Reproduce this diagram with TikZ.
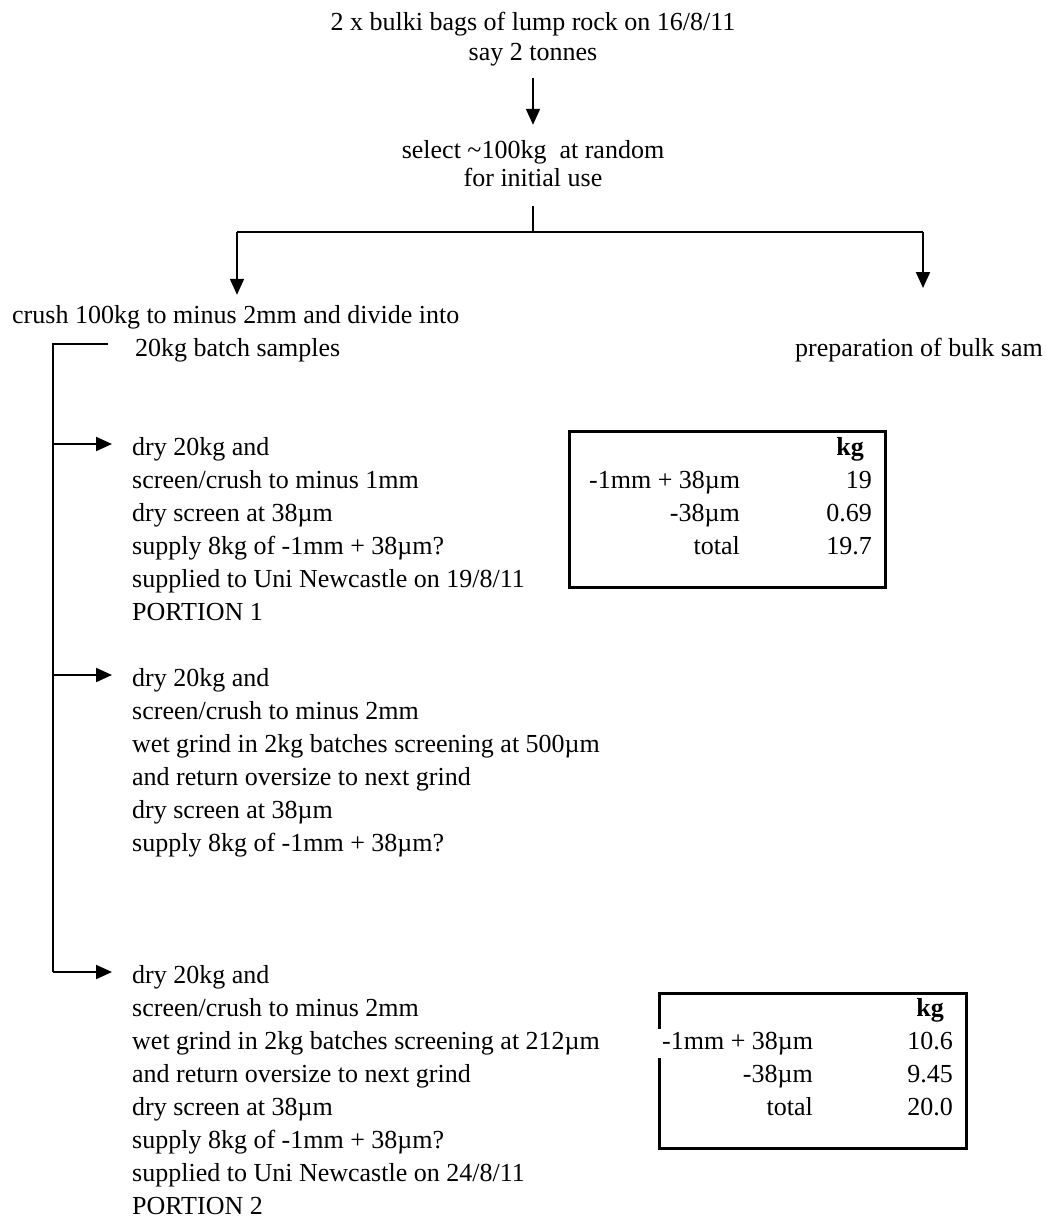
\documentclass[tikz,border=0pt]{standalone}
\usepackage{fontspec}
\setmainfont{Liberation Serif}
\usetikzlibrary{arrows.meta, positioning, calc}

\begin{document}
\begin{tikzpicture}[
  x=1pt, y=-1pt,
  font=\fontsize{26}{33}\selectfont,
  txt/.style={inner sep=0pt, anchor=base west, align=left},
  mid/.style={inner sep=0pt, anchor=base},
  cell/.style={inner sep=0pt, anchor=base east},
  rail/.style={line width=2pt},
  flow/.style={line width=2pt, -{Triangle[length=16pt, width=14pt]}},
  sumbox/.style={draw, line width=3pt, inner sep=0pt, anchor=north west},
]
\useasboundingbox (0,0) rectangle (1045,1218);

% --- Source ---
\node[mid] (bags) at (533,30) {2 x bulki bags of lump rock on 16/8/11};
\node[mid] (tonnes) at (533,60) {say 2 tonnes};
\node[mid] (select) at (533,158) {select \textasciitilde100kg\ \ at random};
\node[mid] (initial) at (533,186) {for initial use};
\draw[flow, shorten <=12pt, shorten >=15pt] (tonnes.south) -- (select.north);

% --- Split ---
\coordinate (split) at (533,232);
\coordinate (splitL) at (237,232);
\coordinate (splitR) at (923,232);
\coordinate (prepTip) at (923,288);
\draw[rail, shorten <=20pt] (initial.south) -- (split);
\draw[rail] (splitL) -- (splitR);

\node[txt] (crush) at (12,323) {crush 100kg to minus 2mm and divide into};
\node[txt] (batch) at (135,356) {20kg batch samples};
\node[txt] (prep) at (795,356) {preparation of bulk sam};
\draw[flow, shorten >=10pt] (splitL) -- (splitL |- crush.north);
\draw[flow] (splitR) -- (prepTip);

% --- Batch samples (base = last line) ---
\node[txt] (g1) at (132,620) {dry 20kg and\\
  screen/crush to minus 1mm\\
  dry screen at 38µm\\
  supply 8kg of -1mm + 38µm?\\
  supplied to Uni Newcastle on 19/8/11\\
  PORTION 1};
\node[txt] (g2) at (132,851) {dry 20kg and\\
  screen/crush to minus 2mm\\
  wet grind in 2kg batches screening at 500µm\\
  and return oversize to next grind\\
  dry screen at 38µm\\
  supply 8kg of -1mm + 38µm?};
\node[txt] (g3) at (132,1214) {dry 20kg and\\
  screen/crush to minus 2mm\\
  wet grind in 2kg batches screening at 212µm\\
  and return oversize to next grind\\
  dry screen at 38µm\\
  supply 8kg of -1mm + 38µm?\\
  supplied to Uni Newcastle on 24/8/11\\
  PORTION 2};

\coordinate (railTop) at (53,344);
\coordinate (railHook) at (108,344);
\path ([xshift=-20pt, yshift=176pt]g1.base west) coordinate (g1in);
\path ([xshift=-20pt, yshift=176pt]g2.base west) coordinate (g2in);
\path ([xshift=-20pt, yshift=242pt]g3.base west) coordinate (g3in);
\draw[rail] (railHook) -- (railTop) -- (railTop |- g3in);
\draw[flow] (railTop |- g1in) -- (g1in);
\draw[flow] (railTop |- g2in) -- (g2in);
\draw[flow] (railTop |- g3in) -- (g3in);

% --- Portion 1 masses ---
\node[sumbox, minimum width=316pt, minimum height=156pt] (box1) at (568,430) {};
\node[cell] (kg1) at (864,455) {\textbf{kg}};
\node[txt] (c1a) at (589,488) {-1mm + 38µm};
\node[cell] (c1b) at (740,521) {-38µm};
\node[cell] (c1c) at (740,554) {total};
\node[cell] (v1a) at (872,488) {19};
\node[cell] (v1b) at (872,521) {0.69};
\node[cell] (v1c) at (872,554) {19.7};

% --- Portion 2 masses ---
\node[sumbox, minimum width=307pt, minimum height=155pt] (box2) at (658,992) {};
\node[cell] (kg2) at (944,1016) {\textbf{kg}};
\node[txt, fill=white, inner xsep=6pt, inner ysep=3pt] (c2a) at (656,1049) {-1mm + 38µm};
\node[cell] (c2b) at (813,1082) {-38µm};
\node[cell] (c2c) at (813,1115) {total};
\node[cell] (v2a) at (953,1049) {10.6};
\node[cell] (v2b) at (953,1082) {9.45};
\node[cell] (v2c) at (953,1115) {20.0};
\end{tikzpicture}
\end{document}
